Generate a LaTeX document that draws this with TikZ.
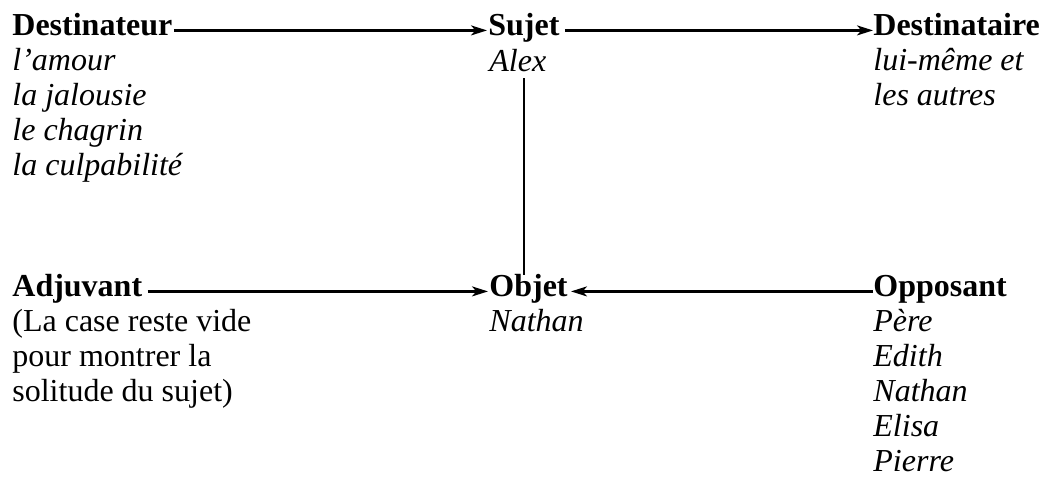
\documentclass[tikz,border=0pt]{standalone}
\usepackage{fontspec}
\setmainfont{Liberation Serif}
\usetikzlibrary{arrows.meta}
\begin{document}
\begin{tikzpicture}[x=0.5pt,y=-0.5pt,
  txt/.style={anchor=base west,inner sep=0pt,font=\fontsize{16pt}{17.5pt}\selectfont},
  head/.style={txt,font=\fontsize{16pt}{17.5pt}\selectfont\bfseries},
  itm/.style={txt,font=\fontsize{16pt}{17.5pt}\selectfont\itshape},
  arr/.style={line width=1.1pt,-{Stealth[length=8pt,width=5pt,inset=2.2pt]}},
  plain/.style={line width=1.1pt}]
\useasboundingbox (0,0) rectangle (1044,487);
% headings
\node[head] (dest) at (12,35) {Destinateur};
\node[head] (suj) at (488,35) {Sujet};
\node[head] (dire) at (873,35) {Destinataire};
\node[head] (adj) at (12,296) {Adjuvant};
\node[head] (obj) at (489,296) {Objet};
\node[head] (opp) at (873,296) {Opposant};
% lists
\node[itm] (d1) at (12,70) {l’amour};
\node[itm] (d2) at (12,105) {la jalousie};
\node[itm] (d3) at (12,140) {le chagrin};
\node[itm] (d4) at (12,175) {la culpabilité};
\node[itm] (s1) at (489,71) {Alex};
\node[itm] (r1) at (873,70) {lui-même et};
\node[itm] (r2) at (873,105) {les autres};
\node[txt] (a1) at (12,331) {(La case reste vide};
\node[txt] (a2) at (12,366) {pour montrer la};
\node[txt] (a3) at (12,401) {solitude du sujet)};
\node[itm] (o1) at (489,331) {Nathan};
\node[itm] (p1) at (873,331) {Père};
\node[itm] (p2) at (873,366) {Edith};
\node[itm] (p3) at (873,401) {Nathan};
\node[itm] (p4) at (873,436) {Elisa};
\node[itm] (p5) at (873,471) {Pierre};
% connectors
\coordinate (vtop) at (524,78);
\coordinate (vbot) at (524,275);
\draw[arr] ([xshift=0.5pt]dest.mid east) -- ([xshift=-0.5pt]suj.mid west);
\draw[arr] ([xshift=2.5pt]suj.mid east) -- (dire.mid west);
\draw[arr] ([xshift=2.5pt]adj.mid east) -- ([xshift=-0.5pt]obj.mid west);
\draw[arr] (opp.mid west) -- ([xshift=1.5pt]obj.mid east);
\draw[plain] (vtop) -- (vbot);
\end{tikzpicture}
\end{document}
